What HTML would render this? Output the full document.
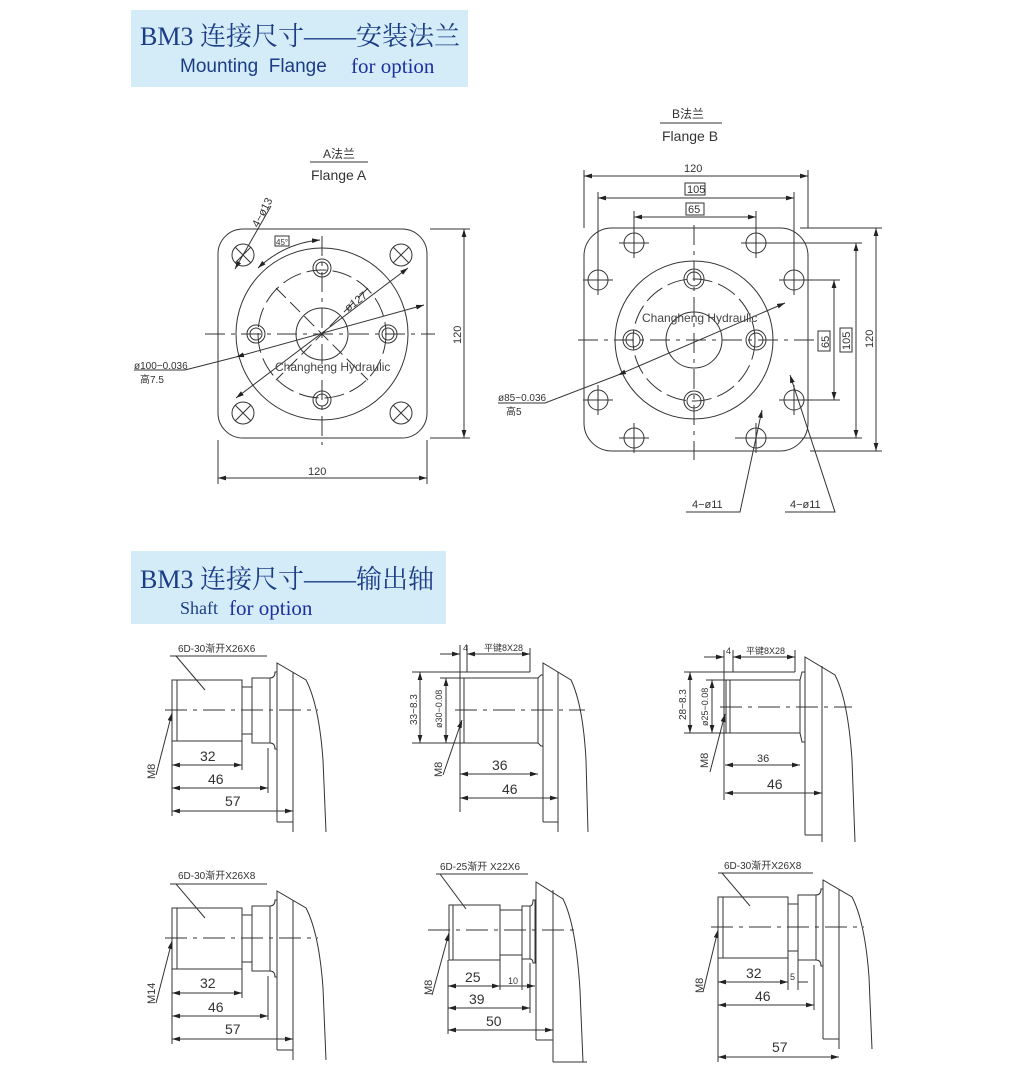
<!DOCTYPE html>
<html><head><meta charset="utf-8"><style>
html,body{margin:0;padding:0;background:#fff;}
body{width:1018px;height:1078px;position:relative;overflow:hidden;}
.hdr{position:absolute;background:#d3ecf8;}
.t1{position:absolute;font-family:"Liberation Serif","Noto Serif CJK SC",serif;color:#1c3d86;font-size:26px;white-space:nowrap;}
.t2{position:absolute;font-family:"Liberation Sans",sans-serif;color:#1c3d86;font-size:19px;white-space:nowrap;}
.t3{position:absolute;font-family:"Liberation Serif",serif;color:#1f2fa0;font-size:21px;white-space:nowrap;}
svg{position:absolute;left:0;top:0;}
</style></head><body>
<div class="hdr" style="left:131px;top:10px;width:337px;height:77px;"></div>
<div class="t1" style="left:140px;top:16px;">BM3 连接尺寸——安装法兰</div>
<div class="t2" style="left:180px;top:56px;">Mounting&nbsp; Flange</div>
<div class="t3" style="left:351px;top:54px;">for option</div>
<div class="hdr" style="left:131px;top:551px;width:315px;height:73px;"></div>
<div class="t1" style="left:140px;top:559px;">BM3 连接尺寸——输出轴</div>
<div class="t2" style="left:180px;top:598px;font-family:'Liberation Serif',serif;font-size:18px;">Shaft</div>
<div class="t3" style="left:229px;top:596px;">for option</div>

<svg width="1018" height="1078" viewBox="0 0 1018 1078" font-family="Liberation Sans, Noto Sans CJK SC, sans-serif">
<defs>
<marker id="a" viewBox="0 0 10 6" refX="10" refY="3" markerWidth="8" markerHeight="5" orient="auto-start-reverse"><path d="M0,0L10,3L0,6z" fill="#222"/></marker>
<g id="sh1" fill="none" stroke="#333" stroke-width="1">
<rect x="172" y="680" width="70" height="61"/>
<line x1="177" y1="680" x2="177" y2="741"/>
<rect x="242" y="687" width="10" height="47"/>
<rect x="252" y="678" width="18" height="65"/>
<path d="M270,678 Q275,678 275,672 L277,672 L277,749 L275,749 Q275,743 270,743"/>
<path d="M277,822 L277,663 L306,680 Q319,705 323,760 L326,832"/>
<line x1="293" y1="672" x2="293" y2="832"/>
<line x1="277" y1="822" x2="293" y2="822"/>
<line x1="165" y1="710" x2="318" y2="710" stroke-dasharray="22,6,4,6"/>
</g>
</defs>

<g fill="none" stroke="#333" stroke-width="1">
<!-- Flange A -->
<rect x="218" y="229" width="209" height="209" rx="25"/>
<circle cx="322" cy="334" r="86"/>
<circle cx="322" cy="334" r="64" stroke-dasharray="20,6"/>
<circle cx="322" cy="334" r="26"/>
<g><circle cx="322" cy="268" r="9"/><circle cx="322" cy="268" r="6"/>
<circle cx="322" cy="400" r="9"/><circle cx="322" cy="400" r="6"/>
<circle cx="256" cy="334" r="9"/><circle cx="256" cy="334" r="6"/>
<circle cx="388" cy="334" r="9"/><circle cx="388" cy="334" r="6"/></g>
<g><circle cx="243" cy="255" r="11"/><circle cx="401" cy="255" r="11"/><circle cx="243" cy="413" r="11"/><circle cx="401" cy="413" r="11"/>
<path d="M235,247l16,16M251,247l-16,16M393,247l16,16M409,247l-16,16M235,405l16,16M251,405l-16,16M393,405l16,16M409,405l-16,16"/></g>
<line x1="205" y1="334" x2="435" y2="334" stroke-dasharray="20,6,4,6"/>
<line x1="322" y1="236" x2="322" y2="445" stroke-dasharray="20,6,4,6"/>
<line x1="276" y1="288" x2="368" y2="380" stroke-dasharray="14,6"/>
<line x1="368" y1="288" x2="276" y2="380" stroke-dasharray="14,6"/>
<line x1="236" y1="398" x2="408" y2="268" marker-start="url(#a)" marker-end="url(#a)"/>
<line x1="235" y1="269" x2="271" y2="206" marker-start="url(#a)"/>
<path d="M258,268 Q285,243 320,240" marker-start="url(#a)" marker-end="url(#a)"/>
<path d="M134,370 L185,370 L236,357" /><line x1="236" y1="357" x2="424" y2="305" marker-start="url(#a)" marker-end="url(#a)"/>
<line x1="430" y1="229" x2="470" y2="229"/><line x1="430" y1="438" x2="470" y2="438"/>
<line x1="464" y1="229" x2="464" y2="438" marker-start="url(#a)" marker-end="url(#a)"/>
<line x1="218" y1="440" x2="218" y2="484"/><line x1="427" y1="440" x2="427" y2="484"/>
<line x1="218" y1="478" x2="427" y2="478" marker-start="url(#a)" marker-end="url(#a)"/>
<line x1="310" y1="162" x2="368" y2="162"/>
<rect x="275" y="236" width="14" height="10"/>

<!-- Flange B -->
<rect x="584" y="228" width="224" height="223" rx="28"/>
<circle cx="694" cy="340" r="79"/>
<circle cx="694" cy="340" r="61" stroke-dasharray="20,6"/>
<circle cx="694" cy="340" r="28"/>
<g><circle cx="694" cy="279" r="10"/><circle cx="694" cy="279" r="7"/>
<circle cx="694" cy="401" r="10"/><circle cx="694" cy="401" r="7"/>
<circle cx="633" cy="340" r="10"/><circle cx="633" cy="340" r="7"/>
<circle cx="756" cy="340" r="10"/><circle cx="756" cy="340" r="7"/></g>
<g><circle cx="634" cy="243" r="10"/><circle cx="756" cy="243" r="10"/><circle cx="598" cy="280" r="10"/><circle cx="794" cy="280" r="10"/>
<circle cx="598" cy="400" r="10"/><circle cx="794" cy="400" r="10"/><circle cx="634" cy="438" r="10"/><circle cx="756" cy="438" r="10"/>
<path d="M619,243h30M634,228v30M741,243h30M756,228v30M583,280h30M598,265v30M779,280h30M794,265v30M583,400h30M598,385v30M779,400h30M794,385v30M619,438h30M634,423v30M741,438h30M756,423v30"/></g>
<line x1="578" y1="340" x2="820" y2="340" stroke-dasharray="20,6,4,6"/>
<line x1="694" y1="225" x2="694" y2="460" stroke-dasharray="20,6,4,6"/>
<path d="M498,403 L545,403 L618,375"/><line x1="618" y1="375" x2="785" y2="303" marker-start="url(#a)" marker-end="url(#a)"/>
<line x1="584" y1="170" x2="584" y2="228"/><line x1="808" y1="170" x2="808" y2="228"/>
<line x1="584" y1="176" x2="808" y2="176" marker-start="url(#a)" marker-end="url(#a)"/>
<line x1="598" y1="192" x2="598" y2="272"/><line x1="794" y1="192" x2="794" y2="272"/>
<line x1="598" y1="198" x2="794" y2="198" marker-start="url(#a)" marker-end="url(#a)"/>
<line x1="634" y1="211" x2="634" y2="235"/><line x1="756" y1="211" x2="756" y2="235"/>
<line x1="634" y1="217" x2="756" y2="217" marker-start="url(#a)" marker-end="url(#a)"/>
<line x1="800" y1="228" x2="882" y2="228"/><line x1="810" y1="451" x2="882" y2="451"/>
<line x1="876" y1="228" x2="876" y2="451" marker-start="url(#a)" marker-end="url(#a)"/>
<line x1="766" y1="243" x2="862" y2="243"/><line x1="735" y1="438" x2="862" y2="438"/>
<line x1="856" y1="243" x2="856" y2="438" marker-start="url(#a)" marker-end="url(#a)"/>
<line x1="804" y1="280" x2="840" y2="280"/><line x1="804" y1="400" x2="840" y2="400"/>
<line x1="834" y1="280" x2="834" y2="400" marker-start="url(#a)" marker-end="url(#a)"/>
<path d="M686,512 L740,512 L762,410" marker-end="url(#a)"/>
<path d="M785,512 L835,512 L790,375" marker-end="url(#a)"/>
<line x1="660" y1="123" x2="722" y2="123"/>
<rect x="685" y="183" width="20" height="12"/><rect x="686" y="203" width="18" height="12"/>
<rect x="818" y="331" width="12" height="20"/><rect x="840" y="328" width="12" height="24"/>

<use href="#sh1"/>
<use href="#sh1" transform="translate(0,228)"/>
<use href="#sh1" transform="translate(546,217)"/>

<!-- Shaft 2 -->
<rect x="460" y="678" width="78" height="65"/>
<line x1="464" y1="678" x2="464" y2="743"/>
<path d="M538,678 L541,675 L543,675 L543,746 L541,746 L538,743"/>
<path d="M543,822 L543,663 L571,680 Q583,705 586,760 L588,832"/>
<line x1="558" y1="672" x2="558" y2="832"/><line x1="543" y1="822" x2="558" y2="822"/>
<line x1="455" y1="710" x2="585" y2="710" stroke-dasharray="22,6,4,6"/>
<line x1="412" y1="672" x2="530" y2="672"/><line x1="412" y1="743" x2="460" y2="743"/><line x1="440" y1="678" x2="460" y2="678"/>
<line x1="420" y1="672" x2="420" y2="743" marker-start="url(#a)" marker-end="url(#a)"/>
<line x1="446" y1="678" x2="446" y2="743" marker-start="url(#a)" marker-end="url(#a)"/>
<line x1="460" y1="645" x2="460" y2="812"/><line x1="467" y1="645" x2="467" y2="672"/><line x1="530" y1="648" x2="530" y2="672"/>
<line x1="440" y1="654" x2="460" y2="654" marker-end="url(#a)"/><line x1="467" y1="654" x2="530" y2="654" marker-start="url(#a)" marker-end="url(#a)"/>
<path d="M443,775 L462,720" marker-end="url(#a)"/>
<line x1="460" y1="774" x2="538" y2="774" marker-start="url(#a)" marker-end="url(#a)"/>
<line x1="460" y1="798" x2="558" y2="798" marker-start="url(#a)" marker-end="url(#a)"/>

<!-- Shaft 3 -->
<rect x="726" y="680" width="74" height="53"/>
<line x1="730" y1="680" x2="730" y2="733"/>
<path d="M800,680 L802,672 L805,672 L805,742 L802,742 L800,733"/>
<path d="M805,835 L805,657 L835,675 Q848,700 852,760 L855,842"/>
<line x1="822" y1="666" x2="822" y2="842"/><line x1="805" y1="835" x2="822" y2="835"/>
<line x1="720" y1="707" x2="852" y2="707" stroke-dasharray="22,6,4,6"/>
<line x1="684" y1="672" x2="795" y2="672"/><line x1="684" y1="733" x2="726" y2="733"/><line x1="706" y1="680" x2="726" y2="680"/>
<line x1="690" y1="672" x2="690" y2="733" marker-start="url(#a)" marker-end="url(#a)"/>
<line x1="712" y1="680" x2="712" y2="733" marker-start="url(#a)" marker-end="url(#a)"/>
<line x1="724" y1="650" x2="724" y2="800"/><line x1="733" y1="650" x2="733" y2="672"/><line x1="795" y1="650" x2="795" y2="672"/>
<line x1="704" y1="657" x2="724" y2="657" marker-end="url(#a)"/><line x1="733" y1="657" x2="795" y2="657" marker-start="url(#a)" marker-end="url(#a)"/>
<path d="M710,772 L725,714" marker-end="url(#a)"/>
<line x1="725" y1="765" x2="800" y2="765" marker-start="url(#a)" marker-end="url(#a)"/>
<line x1="725" y1="793" x2="822" y2="793" marker-start="url(#a)" marker-end="url(#a)"/>

<!-- Shaft 1 dims -->
<line x1="172" y1="741" x2="172" y2="816"/><line x1="242" y1="741" x2="242" y2="770"/><line x1="268" y1="748" x2="268" y2="793"/>
<line x1="172" y1="765" x2="242" y2="765" marker-start="url(#a)" marker-end="url(#a)"/>
<line x1="172" y1="788" x2="268" y2="788" marker-start="url(#a)" marker-end="url(#a)"/>
<line x1="172" y1="811" x2="293" y2="811" marker-start="url(#a)" marker-end="url(#a)"/>
<line x1="170" y1="656" x2="267" y2="656"/><line x1="176" y1="656" x2="205" y2="690"/>
<path d="M156,775 L172,713" marker-end="url(#a)"/>
<!-- Shaft 4 dims -->
<line x1="172" y1="969" x2="172" y2="1044"/><line x1="242" y1="969" x2="242" y2="998"/><line x1="268" y1="976" x2="268" y2="1020"/>
<line x1="172" y1="993" x2="242" y2="993" marker-start="url(#a)" marker-end="url(#a)"/>
<line x1="172" y1="1016" x2="268" y2="1016" marker-start="url(#a)" marker-end="url(#a)"/>
<line x1="172" y1="1039" x2="293" y2="1039" marker-start="url(#a)" marker-end="url(#a)"/>
<line x1="170" y1="884" x2="267" y2="884"/><line x1="176" y1="884" x2="205" y2="918"/>
<path d="M156,1003 L172,941" marker-end="url(#a)"/>
<!-- Shaft 6 dims -->
<line x1="718" y1="958" x2="718" y2="1062"/><line x1="788" y1="958" x2="788" y2="990"/><line x1="798" y1="960" x2="798" y2="990"/><line x1="814" y1="965" x2="814" y2="1010"/>
<line x1="718" y1="982" x2="788" y2="982" marker-start="url(#a)" marker-end="url(#a)"/>
<line x1="798" y1="982" x2="808" y2="982"/>
<line x1="718" y1="1005" x2="814" y2="1005" marker-start="url(#a)" marker-end="url(#a)"/>
<line x1="718" y1="1057" x2="839" y2="1057" marker-start="url(#a)" marker-end="url(#a)"/>
<line x1="718" y1="873" x2="813" y2="873"/><line x1="722" y1="873" x2="750" y2="906"/>
<path d="M703,992 L718,930" marker-end="url(#a)"/>

<!-- Shaft 5 -->
<rect x="449" y="905" width="51" height="55"/>
<line x1="453" y1="905" x2="453" y2="960"/>
<rect x="500" y="910" width="22" height="45"/>
<rect x="522" y="906" width="8" height="53"/>
<path d="M530,906 Q533,906 533,900 L535,900 L535,963 L533,963 Q533,959 530,959"/>
<path d="M536,1040 L536,882 L563,899 Q576,925 580,990 L583,1062"/>
<line x1="553" y1="890" x2="553" y2="1062"/><line x1="536" y1="1040" x2="553" y2="1040"/><line x1="553" y1="1062" x2="587" y2="1062"/>
<line x1="428" y1="930" x2="578" y2="930" stroke-dasharray="22,6,4,6"/>
<line x1="448" y1="960" x2="448" y2="1034"/><line x1="500" y1="960" x2="500" y2="990"/><line x1="522" y1="959" x2="522" y2="990"/><line x1="530" y1="963" x2="530" y2="1013"/>
<line x1="448" y1="986" x2="500" y2="986" marker-start="url(#a)" marker-end="url(#a)"/>
<line x1="500" y1="986" x2="535" y2="986" marker-end="url(#a)"/>
<line x1="448" y1="1008" x2="530" y2="1008" marker-start="url(#a)" marker-end="url(#a)"/>
<line x1="448" y1="1030" x2="553" y2="1030" marker-start="url(#a)" marker-end="url(#a)"/>
<line x1="436" y1="874" x2="528" y2="874"/><line x1="440" y1="874" x2="466" y2="909"/>
<path d="M432,995 L449,933" marker-end="url(#a)"/>
</g>

<g fill="#333" font-size="11">
<text x="323" y="158" font-size="12">A法兰</text>
<text x="311" y="180" font-size="14">Flange A</text>
<text x="672" y="118" font-size="12">B法兰</text>
<text x="662" y="141" font-size="14">Flange B</text>
<text x="276" y="245" font-size="8">45°</text>
<text x="0" y="0" transform="translate(258,228) rotate(-62)">4−ø13</text>
<text x="0" y="0" transform="translate(348,312) rotate(-37)">ø127</text>
<text x="134" y="369" font-size="10">ø100−0.036</text>
<text x="140" y="383" font-size="10">高7.5</text>
<text x="275" y="371" font-size="12" fill="#444">Changheng Hydraulic</text>
<text x="308" y="475">120</text>
<text x="0" y="0" transform="translate(461,344) rotate(-90)">120</text>
<text x="684" y="172">120</text>
<text x="687" y="193">105</text>
<text x="688" y="213">65</text>
<text x="642" y="322" font-size="12" fill="#444">Changheng Hydraulic</text>
<text x="498" y="401" font-size="10">ø85−0.036</text>
<text x="506" y="415" font-size="10">高5</text>
<text x="0" y="0" transform="translate(829,348) rotate(-90)">65</text>
<text x="0" y="0" transform="translate(850,350) rotate(-90)">105</text>
<text x="0" y="0" transform="translate(873,348) rotate(-90)">120</text>
<text x="692" y="508">4−ø11</text>
<text x="790" y="508">4−ø11</text>
<text x="178" y="652" font-size="10">6D-30渐开X26X6</text>
<text x="200" y="761" font-size="14">32</text>
<text x="208" y="784" font-size="14">46</text>
<text x="225" y="806" font-size="14">57</text>
<text x="0" y="0" transform="translate(155,779) rotate(-90)" font-size="11">M8</text>
<text x="463" y="651" font-size="9">4</text>
<text x="484" y="651" font-size="9">平键8X28</text>
<text x="0" y="0" transform="translate(417,725) rotate(-90)" font-size="10">33−8.3</text>
<text x="0" y="0" transform="translate(442,728) rotate(-90)" font-size="9">ø30−0.08</text>
<text x="0" y="0" transform="translate(442,777) rotate(-90)" font-size="11">M8</text>
<text x="492" y="770" font-size="14">36</text>
<text x="502" y="794" font-size="14">46</text>
<text x="726" y="654" font-size="9">4</text>
<text x="746" y="654" font-size="9">平键8X28</text>
<text x="0" y="0" transform="translate(686,720) rotate(-90)" font-size="10">28−8.3</text>
<text x="0" y="0" transform="translate(708,726) rotate(-90)" font-size="9">ø25−0.08</text>
<text x="0" y="0" transform="translate(708,768) rotate(-90)" font-size="11">M8</text>
<text x="757" y="762" font-size="11">36</text>
<text x="767" y="789" font-size="14">46</text>
<text x="178" y="879" font-size="10">6D-30渐开X26X8</text>
<text x="200" y="988" font-size="14">32</text>
<text x="208" y="1012" font-size="14">46</text>
<text x="225" y="1034" font-size="14">57</text>
<text x="0" y="0" transform="translate(155,1004) rotate(-90)" font-size="11">M14</text>
<text x="440" y="870" font-size="10">6D-25渐开 X22X6</text>
<text x="465" y="982" font-size="14">25</text>
<text x="508" y="984" font-size="9">10</text>
<text x="469" y="1004" font-size="14">39</text>
<text x="486" y="1026" font-size="14">50</text>
<text x="0" y="0" transform="translate(432,995) rotate(-90)" font-size="11">M8</text>
<text x="724" y="869" font-size="10">6D-30渐开X26X8</text>
<text x="746" y="978" font-size="14">32</text>
<text x="790" y="980" font-size="9">5</text>
<text x="755" y="1001" font-size="14">46</text>
<text x="772" y="1052" font-size="14">57</text>
<text x="0" y="0" transform="translate(703,993) rotate(-90)" font-size="11">M8</text>
</g>
</svg>
</body></html>
